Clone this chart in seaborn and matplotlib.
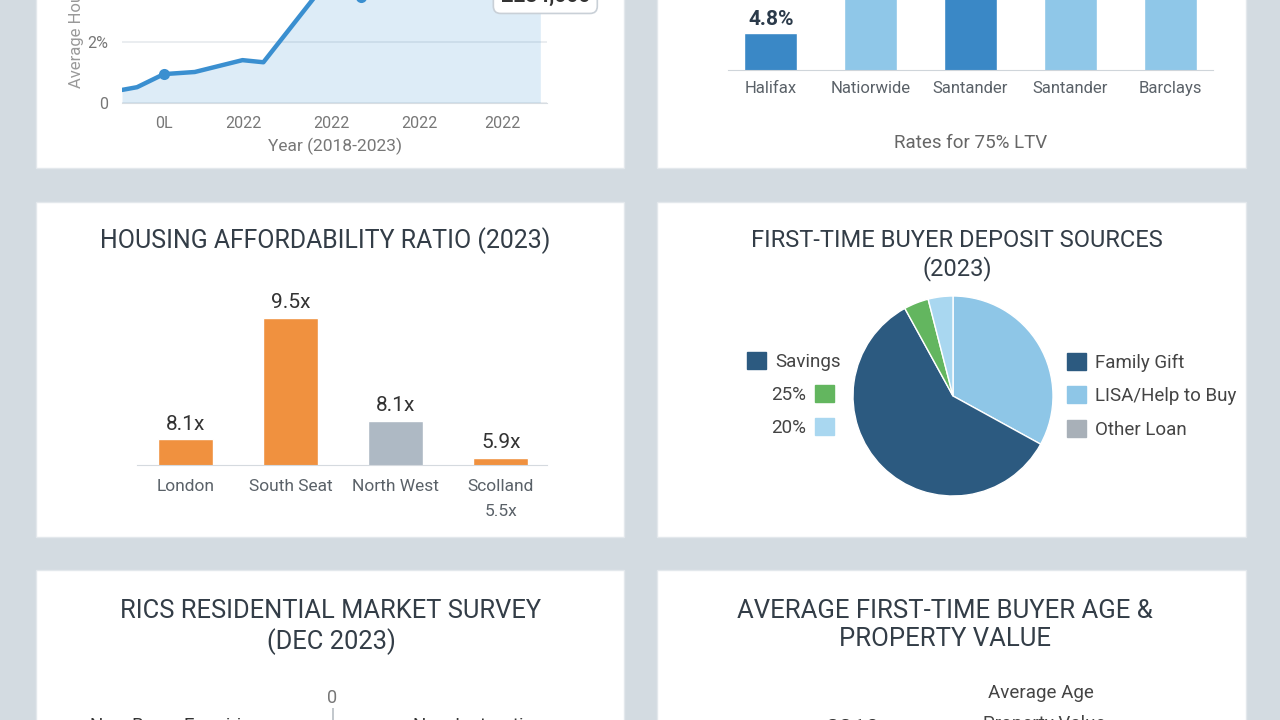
import pandas as pd
import seaborn as sns
import matplotlib.pyplot as plt
from matplotlib.patches import Rectangle, Patch

sns.set_style("white")
plt.rcParams["font.family"] = ["Roboto", "DejaVu Sans"]

## Data
# house price growth (top-left)
price_years = [2018.0, 2018.18, 2018.5, 2018.87, 2019.44, 2019.69, 2020.45, 2020.86, 2021.5, 2022.3, 2023.0]
price_growth = [0.43, 0.52, 0.95, 1.02, 1.41, 1.34, 4.0, 3.5, 4.3, 4.6, 4.85]
year_ticks = [2018.5, 2019.45, 2020.5, 2021.55, 2022.55]
year_tick_labels = ["0L", "2022", "2022", "2022", "2022"]
price_callout = "£284,000"

# mortgage rates (top-right)
lenders = ["Halifax", "Natiorwide", "Santander", "Santander", "Barclays"]
rates = [4.8, 5.7, 6.0, 5.8, 5.9]

# affordability (middle-left)
regions = ["London", "South Seat", "North West", "Scolland\n5.5x"]
ratio_heights = [7.85, 9.5, 8.1, 7.6]
ratio_labels = ["8.1x", "9.5x", "8.1x", "5.9x"]

# deposit sources (middle-right)
deposit_slices = ["LISA/Help to Buy", "Savings", "25%", "20%"]
deposit_share = [33, 59, 4, 4]

# RICS survey (bottom-left)
rics_rows = ["Buyer Demand", "Agreed Sales", "Prices", "Expectations"]
rics_enquiries = [-30, -24, -18, -10]
rics_instructions = [12, 9, 6, 4]

# first-time buyer age & value (bottom-right)
ftb_years = ["2019", "2020", "2021", "2022", "2023"]
ftb_value = [210, 225, 240, 250, 245]

## Layout helpers
W, H = 1280, 720
BG = "#d3dbe1"
TITLE = "#333d47"
GREY = "#5a6168"

fig = plt.figure(figsize=(12.8, 7.2), dpi=100, facecolor=BG)


def fx(x):
    return x / W


def fy(y):
    return 1 - y / H


def px_axes(x0, y0, x1, y1, **kw):
    return fig.add_axes([x0 / W, 1 - y1 / H, (x1 - x0) / W, (y1 - y0) / H], **kw)


def card(x0, y0, x1, y1):
    fig.add_artist(Rectangle((fx(x0), fy(y1)), (x1 - x0) / W, (y1 - y0) / H,
                             transform=fig.transFigure, facecolor="white",
                             edgecolor="#e3e8ec", lw=1, zorder=-1))


for c in [(36, -250, 624, 168), (657, -250, 1246, 168), (36, 202, 624, 537),
          (657, 202, 1246, 537), (36, 570, 624, 900), (657, 570, 1246, 900)]:
    card(*c)

## Part 1: price growth line
ax1 = px_axes(122, -49, 547, 103, facecolor="none")
sns.lineplot(x=price_years, y=price_growth, ax=ax1, color="#3a8fd0", linewidth=3.2,
             marker="o", markevery=[2, 7], markersize=8, markeredgewidth=0)
ax1.fill_between(price_years, price_growth, color="#3a8fd0", alpha=0.17, lw=0)
ax1.set_xlim(2018.0, 2023.08)
ax1.set_ylim(0, 5)
ax1.set_yticks([0, 2], labels=["0", "2%"])
ax1.set_xticks(year_ticks, labels=year_tick_labels)
ax1.tick_params(axis="x", length=4, color="#d8dde2", labelsize=11.5, labelcolor="#777", pad=5)
ax1.tick_params(axis="y", length=0, labelsize=11.5, labelcolor="#777", pad=10)
ax1.grid(axis="y", color="#e6eaee", lw=1.2)
sns.despine(ax=ax1, left=True)
ax1.spines["bottom"].set_color("#d8dde2")
ax1.set_xlabel("Year (2018-2023)", fontsize=12.5, color="#777", labelpad=5)
ax1.set_ylabel("Average House Price", loc="bottom", fontsize=12, color="#999")
ax1.yaxis.set_label_coords(-0.09, 0.1)
ax1.text(2023.06, 3.5, price_callout, ha="center", va="center", fontsize=15,
         fontweight="bold", color="#333",
         bbox=dict(boxstyle="round,pad=0.35", fc="white", ec="#c9d0d7", lw=1.2))

## Part 2: mortgage rates bars
ax2 = px_axes(728, -60, 1213, 70, facecolor="none")
pos = list(range(len(lenders)))
rate_colors = ["#3a88c6", "#8fc7e8", "#3a88c6", "#8fc7e8", "#8fc7e8"]
sns.barplot(x=pos, y=rates, hue=pos, palette=rate_colors, legend=False,
            width=0.53, ax=ax2, saturation=1)
for cont, r in zip(ax2.containers, rates):
    ax2.bar_label(cont, labels=[f"{r}%"], padding=3, fontsize=15,
                  fontweight="bold", color="#2b3a4a")
ax2.set_ylim(4.0, 6.8)
ax2.set_xlim(-0.43, 4.43)
ax2.set_xticks(pos, labels=lenders)
ax2.set_yticks([])
ax2.tick_params(axis="x", length=0, labelsize=12, labelcolor=GREY, pad=8)
sns.despine(ax=ax2, left=True)
ax2.spines["bottom"].set_color("#cfd5da")
ax2.set_xlabel("Rates for 75% LTV", fontsize=13.5, color="#666", labelpad=27)

## Part 3: affordability ratio
fig.text(fx(325), fy(241), "HOUSING AFFORDABILITY RATIO (2023)", ha="center",
         va="center", fontsize=17.9, color=TITLE)
ax3 = px_axes(137, 270, 547, 465, facecolor="none")
sns.barplot(x=regions, y=ratio_heights, hue=regions,
            palette=["#f0913f", "#f0913f", "#aeb9c4", "#f0913f"], legend=False,
            width=0.52, ax=ax3, saturation=1)
for cont, lab in zip(ax3.containers, ratio_labels):
    ax3.bar_label(cont, labels=[lab], padding=4, fontsize=15, color="#333")
ax3.set_ylim(7.5, 10.15)
ax3.set_xlim(-0.46, 3.44)
ax3.set_yticks([])
ax3.set_xlabel("")
ax3.tick_params(axis="x", length=0, labelsize=12.5, labelcolor=GREY, pad=10)
for t in ax3.get_xticklabels():
    t.set_linespacing(1.85)
    t.set_va("top")
sns.despine(ax=ax3, left=True)
ax3.spines["bottom"].set_color("#d5dadf")

## Part 4: deposit sources pie
fig.text(fx(957), fy(255), "FIRST-TIME BUYER DEPOSIT SOURCES\n(2023)", ha="center",
         va="center", fontsize=17, color=TITLE, linespacing=1.2)
ax4 = px_axes(853, 296, 1053, 496)
pie_colors = ["#8ec6e7", "#2c5a80", "#63b65f", "#a9d7f0"]
ax4.pie(deposit_share, colors=pie_colors, startangle=90, counterclock=False,
        wedgeprops=dict(edgecolor="white", linewidth=1))
ax4.set_xlim(-1, 1)
ax4.set_ylim(-1, 1)

leg_kw = dict(frameon=False, handlelength=1.0, handleheight=1.0, borderpad=0,
              borderaxespad=0, fontsize=13.5, labelspacing=0.78, handletextpad=0.5,
              labelcolor="#444")
fig.legend([Patch(color="#2c5a80"), Patch(color="#8ec6e7"), Patch(color="#a8b0b8")],
           ["Family Gift", "LISA/Help to Buy", "Other Loan"], loc="upper left",
           bbox_to_anchor=(fx(1067), fy(353)), **leg_kw)
fig.legend([Patch(color="#2c5a80")], ["Savings"], loc="upper left",
           bbox_to_anchor=(fx(747), fy(352)), **leg_kw)
fig.legend([Patch(color="#63b65f"), Patch(color="#a9d7f0")], ["25%", "20%"],
           loc="upper right", markerfirst=False,
           bbox_to_anchor=(fx(834), fy(385)), **leg_kw)

## Part 5: RICS survey
fig.text(fx(331), fy(627), "RICS RESIDENTIAL MARKET SURVEY\n(DEC 2023)", ha="center",
         va="center", fontsize=18.4, color=TITLE, linespacing=1.25)
ax5 = px_axes(90, 708, 575, 980, facecolor="none")
df_rics = pd.DataFrame({
    "row": rics_rows * 2,
    "balance": rics_enquiries + rics_instructions,
    "series": ["New Buyer Enquiries"] * len(rics_rows) + ["New Instructions"] * len(rics_rows),
})
sns.barplot(data=df_rics, y="row", x="balance", hue="series", dodge=False,
            palette=["#2c5a80", "#8ec6e7"], width=0.5, legend=False, ax=ax5)
ax5.axvline(0, color="#b8bec4", lw=1.2)
ax5.set_xlim(-40, 40)
ax5.set_ylim(3.5, -1.3)
ax5.xaxis.tick_top()
ax5.set_xticks([0], labels=["0"])
ax5.tick_params(axis="x", length=0, labelsize=13, labelcolor="#777", pad=1)
ax5.set_yticks([])
ax5.set_xlabel("")
ax5.set_ylabel("")
sns.despine(ax=ax5, left=True, bottom=True, top=True)
ax5.text(0.0, -0.98, "New Buyer Enquiries", transform=ax5.get_yaxis_transform(),
         ha="left", va="center", fontsize=13.5, color="#333")
ax5.text(0.665, -0.98, "New Instructions", transform=ax5.get_yaxis_transform(),
         ha="left", va="center", fontsize=13.5, color="#333")

## Part 6: first-time buyer age & value
fig.text(fx(945), fy(625), "AVERAGE FIRST-TIME BUYER AGE &\nPROPERTY VALUE", ha="center",
         va="center", fontsize=18.5, color=TITLE, linespacing=1.25)
ax6 = px_axes(890, 712, 1200, 980, facecolor="none")
sns.barplot(x=ftb_value, y=ftb_years, color="#8ec6e7", width=0.44, ax=ax6, saturation=1)
ax6.set_ylim(4.5, -0.64)
ax6.set_xlim(0, 300)
ax6.set_yticks([])
ax6.set_xticks([])
sns.despine(ax=ax6, left=True, bottom=True)
for i, yr in enumerate(ftb_years):
    ax6.text(-0.03, i - 0.3, yr, transform=ax6.get_yaxis_transform(), ha="right",
             va="center", fontsize=17.5, color="#333")
fig.text(fx(988), fy(693), "Average Age", ha="left", va="center", fontsize=13.5, color="#444")
fig.text(fx(983), fy(724), "Property Value", ha="left", va="center", fontsize=13.5, color="#444")

fig.savefig("out.png", dpi=100, facecolor=BG)
